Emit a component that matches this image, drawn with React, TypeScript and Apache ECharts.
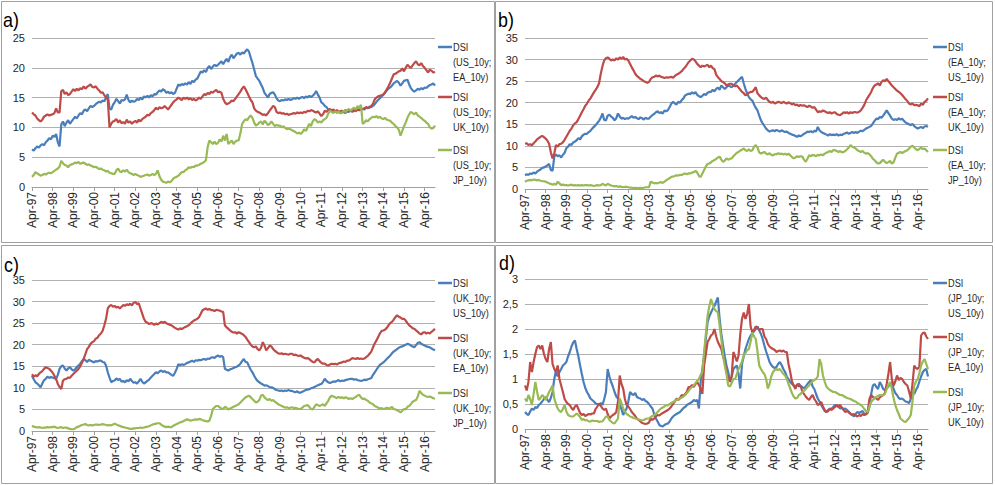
import React, { useEffect, useRef } from "react";
import * as echarts from "echarts";

// ---------- categories (monthly, Apr-97 .. Oct-16) ----------
const MONTH_NAMES = ["Jan", "Feb", "Mar", "Apr", "May", "Jun", "Jul", "Aug", "Sep", "Oct", "Nov", "Dec"];
const N_POINTS = 235;
const categories: string[] = [];
for (let i = 0; i < N_POINTS; i++) {
  const k = 3 + i;
  const y = 1997 + Math.floor(k / 12);
  categories.push(MONTH_NAMES[k % 12] + "-" + String(y % 100).padStart(2, "0"));
}

// ---------- panel a) ----------
const aUS_EA = [
  6.3, 6.1, 6.5, 6.8, 6.6, 7.0, 7.2, 7.0, 7.5, 7.8, 8.2, 8.0,
  8.6, 8.4, 8.9, 7.5, 6.8, 10.5, 11.0, 10.2, 10.8, 11.2, 10.6, 11.0,
  11.4, 11.8, 11.5, 12.0, 12.4, 12.2, 12.8, 13.0, 12.7, 13.2, 13.6, 13.4,
  13.6, 13.9, 14.1, 14.3, 14.2, 14.5, 14.4, 15.0, 15.6, 13.2, 13.0, 13.8,
  14.2, 14.8, 14.4, 14.0, 14.6, 14.5, 14.7, 15.5, 14.6, 14.2, 14.5, 14.3,
  14.4, 14.8, 14.6, 15.0, 14.7, 15.2, 15.0, 15.3, 15.0, 15.4, 15.2, 15.6,
  15.5, 15.9, 16.2, 16.0, 16.4, 16.2, 15.8, 16.0, 15.7, 15.9, 15.6, 15.8,
  16.5, 17.2, 17.0, 17.3, 17.1, 17.4, 17.2, 17.6, 17.3, 17.8, 17.6, 18.0,
  18.2, 18.8, 19.4, 19.2, 19.6, 19.3, 20.0, 20.3, 19.8, 20.2, 20.5, 20.3,
  20.5, 20.8, 21.1, 20.6, 21.1, 21.5, 21.0, 21.8, 22.2, 21.6, 22.0, 22.4,
  22.5, 22.2, 22.6, 22.4, 22.8, 23.1, 22.7, 21.7, 20.8, 19.7, 18.6, 18.2,
  17.8, 17.2, 16.6, 15.8, 15.4, 15.0, 15.6, 15.8, 15.9, 15.5, 14.9, 14.5,
  14.4, 14.6, 14.5, 14.7, 14.6, 14.8, 14.6, 14.7, 14.9, 14.8, 15.0, 14.8,
  15.0, 15.1, 14.9, 15.2, 15.0, 15.3, 15.1, 15.3, 15.6, 16.1, 15.5, 15.0,
  14.2, 14.0, 13.6, 13.4, 13.0, 12.9, 12.8, 12.6, 12.7, 12.5, 12.6, 12.4,
  12.5, 12.6, 12.4, 12.7, 12.6, 12.8, 12.8, 12.9, 12.7, 13.0, 12.9, 13.0,
  13.1, 13.0, 13.3, 13.2, 13.5, 13.4, 13.6, 13.9, 14.3, 14.6, 14.9, 15.2,
  15.5, 15.8, 16.2, 16.5, 16.7, 17.0, 17.4, 17.6, 17.8, 17.5, 17.0, 17.4,
  17.8, 17.9, 18.0, 17.2, 16.6, 16.2, 16.0, 16.2, 16.5, 16.3, 16.6, 16.4,
  16.7, 16.6, 16.9, 17.1, 17.2, 17.4, 17.0,
];
const aUS_UK = [
  12.5, 12.2, 12.0, 11.5, 11.2, 11.0, 11.3, 11.8, 12.0, 12.2, 12.0, 12.1,
  12.2, 12.4, 13.2, 12.5, 12.5, 16.1, 16.3, 15.6, 15.9, 15.4, 15.6, 16.0,
  16.4, 16.1, 16.5, 16.2, 16.6, 16.4, 16.9, 16.5, 16.8, 17.0, 17.2, 16.8,
  16.7, 16.9, 16.5, 16.2, 15.8, 15.9, 15.4, 15.0, 14.7, 10.0, 10.6, 11.0,
  11.1, 11.4, 10.8, 11.2, 10.7, 10.9, 10.6, 11.3, 10.8, 11.0, 10.6, 10.9,
  11.1, 10.8, 11.3, 11.0, 11.4, 11.6, 11.8, 12.1, 12.0, 12.4, 12.6, 12.9,
  13.3, 13.0, 13.4, 13.2, 13.3, 13.6, 13.3, 13.0, 13.4, 13.8, 14.2, 14.5,
  14.7, 15.0, 14.8, 14.6, 15.0, 14.8, 15.0, 14.7, 14.9, 14.6, 14.8, 14.5,
  14.7, 15.0, 14.8, 15.2, 15.6, 15.4, 15.8, 15.6, 16.0, 15.8, 16.1, 16.3,
  15.9, 16.0, 15.8, 14.8, 14.2, 13.9, 14.0, 14.2, 14.5, 14.4, 14.8, 15.2,
  15.6, 16.0, 16.5, 16.9, 16.4, 15.8, 15.2, 14.6, 14.2, 13.2, 12.8, 12.6,
  12.5, 12.3, 12.1, 12.2, 12.0, 12.4, 12.8, 13.2, 13.6, 13.4, 12.6, 12.4,
  12.5, 12.3, 12.4, 12.2, 12.3, 12.1, 12.2, 12.3, 12.4, 12.3, 12.5, 12.4,
  12.5, 12.4, 12.6, 12.5, 12.8, 12.7, 12.9, 12.8, 12.6, 12.5, 12.7, 12.3,
  11.9, 12.2, 12.8, 12.6, 12.9, 13.1, 12.8, 13.0, 12.7, 12.9, 12.6, 12.7,
  12.8, 12.6, 12.9, 12.7, 12.8, 12.8, 12.6, 12.9, 12.8, 13.0, 12.9, 13.1,
  13.1, 13.2, 13.4, 13.3, 13.3, 13.6, 14.0, 14.7, 15.0, 15.2, 15.3, 15.4,
  15.5, 15.9, 16.4, 16.9, 17.5, 18.2, 18.9, 19.0, 19.2, 19.4, 19.5, 19.9,
  19.4, 20.0, 20.5, 20.2, 20.0, 20.4, 20.8, 21.1, 20.6, 20.4, 20.8, 20.3,
  20.0, 19.6, 19.2, 19.7, 19.5, 19.2, 19.3,
];
const aUS_JP = [
  1.7, 2.0, 2.5, 2.3, 2.1, 1.9, 2.0, 2.2, 2.1, 2.3, 2.4, 2.3,
  2.5, 2.7, 2.9, 3.1, 3.4, 4.4, 4.0, 3.7, 3.6, 3.3, 3.7, 3.8,
  3.9, 4.1, 4.0, 4.2, 3.9, 4.0, 4.1, 3.9, 3.7, 3.8, 3.6, 3.5,
  3.3, 3.4, 3.2, 3.0, 3.1, 2.9, 2.8, 2.6, 2.7, 2.4, 2.3, 2.2,
  2.2, 2.8, 3.1, 2.6, 2.5, 2.8, 2.6, 2.9, 2.5, 2.3, 2.2, 2.0,
  2.2, 2.0, 1.9, 1.7, 1.8, 1.9, 2.0, 2.1, 1.9, 2.0, 2.2, 2.0,
  2.2, 2.8, 1.8, 1.2, 0.9, 0.8, 0.7, 0.9, 0.8, 1.0, 1.4, 1.6,
  1.7, 1.9, 2.2, 2.5, 2.5, 2.8, 3.0, 3.3, 3.2, 3.4, 3.3, 3.6,
  3.6, 3.7, 3.9, 4.0, 4.2, 4.5, 6.7, 7.8, 7.5, 7.2, 7.6, 7.2,
  7.4, 8.0, 7.6, 8.6, 7.8, 8.9, 7.2, 7.5, 7.8, 7.2, 7.6, 7.8,
  7.8, 9.0, 10.6, 11.0, 11.4, 11.2, 11.7, 12.0, 11.6, 10.8, 10.3, 10.5,
  10.8, 11.0, 10.5, 11.1, 10.8, 10.4, 10.6, 11.0, 10.6, 10.2, 10.4, 10.3,
  10.3, 10.0, 10.2, 9.9, 9.7, 9.8, 9.7, 9.5, 9.4, 9.2, 9.0, 9.1,
  8.9, 9.2, 9.7, 9.4, 10.0, 10.6, 10.2, 11.0, 11.4, 11.2, 10.8, 11.0,
  10.8, 11.2, 11.4, 11.6, 12.3, 12.8, 12.6, 12.4, 12.7, 12.5, 12.6, 12.4,
  12.5, 12.8, 12.6, 12.9, 13.1, 12.8, 13.1, 13.3, 13.0, 13.6, 13.2, 13.8,
  10.6, 10.8, 11.2, 11.0, 11.4, 11.6, 11.8, 11.7, 11.9, 11.6, 11.8, 11.5,
  11.4, 11.6, 11.3, 11.2, 11.1, 10.8, 10.6, 10.2, 10.0, 9.6, 8.6, 9.4,
  10.2, 10.8, 11.6, 12.2, 12.6, 12.4, 12.2, 12.5, 12.0, 11.8, 11.6, 11.3,
  11.1, 10.8, 10.6, 10.0, 9.8, 9.9, 10.3,
];

// ---------- panel b) ----------
const bEA_US = [
  3.2, 3.4, 3.3, 3.6, 3.5, 3.8, 3.6, 4.0, 4.3, 4.5, 4.9, 5.0,
  5.2, 5.5, 5.8, 4.4, 4.2, 7.5, 8.0, 7.6, 7.8, 7.3, 7.9, 8.4,
  9.5, 9.8, 10.4, 10.2, 10.8, 11.0, 11.3, 11.8, 11.5, 12.2, 12.6, 12.8,
  12.8, 13.2, 13.5, 14.0, 14.4, 14.8, 15.3, 15.8, 16.5, 17.5, 16.0, 15.9,
  17.0, 17.2, 16.8, 16.5, 15.9, 16.4, 17.5, 16.8, 16.3, 16.5, 16.2, 16.4,
  16.3, 16.6, 16.9, 16.5, 16.7, 16.4, 16.2, 16.6, 16.4, 16.1, 16.5, 16.3,
  16.3, 16.8, 17.1, 17.4, 17.8, 18.0, 17.6, 17.8, 17.5, 18.2, 18.0, 18.3,
  19.0, 19.8, 20.2, 19.8, 19.6, 20.2, 20.0, 20.6, 21.0, 21.7, 21.9, 22.1,
  22.0, 22.4, 22.1, 22.5, 21.8, 21.5, 21.3, 21.6, 22.0, 21.8, 22.3, 22.5,
  22.5, 23.0, 22.6, 23.2, 23.5, 23.0, 24.0, 23.6, 23.2, 23.6, 24.0, 23.8,
  23.6, 24.0, 24.4, 24.8, 25.2, 25.6, 26.0, 24.5, 23.2, 22.1, 21.3, 20.8,
  20.5, 19.6, 18.8, 18.2, 17.0, 15.9, 15.2, 14.6, 14.0, 13.6, 13.3, 13.5,
  13.6, 13.4, 13.7, 13.5, 13.3, 13.6, 13.4, 13.2, 13.3, 13.0, 12.8, 12.6,
  12.5, 12.3, 12.1, 12.4, 12.2, 12.5, 12.8, 13.0, 13.3, 13.2, 13.4, 13.1,
  13.5, 13.3, 14.4, 13.6, 13.2, 13.0, 12.8, 12.6, 12.4, 12.7, 12.5, 12.6,
  12.5, 12.7, 12.4, 12.6, 12.5, 12.8, 12.9, 13.1, 12.8, 13.0, 13.2, 13.0,
  13.2, 13.0, 13.3, 13.5, 13.4, 13.7, 14.0, 14.2, 14.4, 14.6, 15.2, 15.8,
  16.3, 16.2, 16.7, 16.5, 17.0, 17.6, 18.2, 17.6, 17.0, 16.3, 16.0, 16.2,
  16.0, 16.4, 16.1, 16.3, 15.8, 15.4, 15.2, 15.0, 14.8, 15.1, 14.6, 14.3,
  14.0, 14.2, 14.4, 14.1, 14.5, 14.6, 14.4,
];
const bEA_UK = [
  10.5, 10.6, 10.2, 10.4, 10.1, 10.6, 11.0, 11.5, 11.8, 12.1, 12.3, 12.0,
  11.7, 11.2, 10.5, 8.5, 7.1, 8.2, 10.2, 9.8, 10.4, 10.5, 10.8, 11.4,
  12.1, 12.8, 13.5, 14.0, 14.8, 15.2, 15.5, 16.2, 17.0, 17.8, 18.5, 19.3,
  19.8, 20.5, 21.0, 21.7, 22.4, 23.0, 23.6, 24.5, 26.7, 28.5, 29.8, 30.3,
  30.5, 30.2, 29.8, 30.0, 29.8, 30.3, 30.0, 30.5, 30.2, 30.6, 30.0, 30.2,
  29.8, 29.0, 28.2, 27.5, 26.7, 26.2, 25.9, 25.5, 25.3, 25.0, 24.8, 24.6,
  24.8, 25.5, 25.9, 26.0, 26.3, 26.1, 26.3, 26.0, 25.9, 25.7, 25.9, 25.8,
  25.9, 26.0, 25.8, 26.2, 26.5, 26.7, 27.0, 27.3, 27.8, 28.2, 28.8, 29.4,
  29.8, 30.2, 30.0, 29.6, 29.0, 28.6, 28.2, 28.6, 28.4, 28.6, 28.8, 28.2,
  28.6, 28.0, 27.8, 26.5, 25.9, 25.5, 25.0, 24.8, 24.5, 24.0, 24.2, 24.4,
  24.4, 24.0, 23.8, 24.0, 23.5, 23.0, 22.5, 22.2, 21.7, 22.0, 22.3, 22.5,
  22.5, 23.0, 23.6, 22.2, 21.7, 21.3, 21.0, 20.9, 21.2, 20.6, 20.2, 20.0,
  20.2, 19.8, 20.0, 20.2, 20.1, 19.9, 20.2, 20.0, 19.8, 20.1, 19.9, 19.6,
  19.8, 19.4, 19.6, 19.2, 19.5, 19.3, 19.4, 19.2, 19.0, 19.3, 19.1, 18.8,
  19.0, 18.4, 17.8, 18.0, 17.9, 18.2, 18.0, 17.8, 17.6, 17.8, 17.5, 17.7,
  17.8, 17.4, 17.2, 17.1, 17.4, 17.8, 17.6, 17.8, 17.5, 17.8, 17.6, 17.8,
  17.8, 17.7, 17.9, 18.2, 18.8, 19.5, 20.5, 21.2, 21.8, 22.5, 23.4, 24.0,
  24.2, 24.5, 24.0, 24.8, 25.2, 25.0, 25.5, 25.0, 24.5, 24.0, 23.6, 23.2,
  22.8, 22.5, 22.2, 21.8, 21.3, 20.8, 20.4, 19.8, 19.6, 19.8, 19.4, 19.5,
  19.4, 19.2, 19.8, 19.5, 20.2, 20.5, 21.0,
];
const bEA_JP = [
  1.7, 1.9, 2.0, 2.1, 2.0, 2.2, 2.1, 2.0, 2.1, 1.9, 1.8, 1.8,
  1.7, 1.5, 1.3, 1.2, 1.0, 1.2, 1.0, 1.7, 1.3, 0.9, 1.0, 0.9,
  0.9, 0.8, 0.9, 1.0, 0.8, 0.9, 0.8, 0.9, 0.8, 0.9, 0.8, 0.9,
  0.9, 0.8, 0.9, 0.8, 0.7, 0.8, 0.9, 0.8, 0.9, 1.2, 1.0, 0.8,
  1.2, 1.0, 0.8, 0.7, 0.6, 0.7, 0.5, 0.6, 0.5, 0.4, 0.5, 0.5,
  0.4, 0.3, 0.3, 0.2, 0.3, 0.2, 0.2, 0.3, 0.2, 0.3, 0.4, 0.4,
  0.4, 1.7, 1.5, 1.3, 1.4, 1.3, 1.5, 1.6, 1.4, 1.7, 2.0, 2.3,
  2.5, 2.8, 2.9, 3.0, 3.2, 3.1, 3.3, 3.2, 3.5, 3.6, 3.4, 3.6,
  3.6, 3.8, 3.9, 4.2, 3.8, 3.0, 2.8, 3.6, 4.4, 5.2, 5.8, 5.9,
  6.2, 6.5, 6.7, 7.0, 7.3, 7.5, 6.8, 6.3, 6.6, 7.1, 6.8, 7.0,
  7.1, 7.6, 8.0, 8.4, 8.6, 8.9, 9.1, 9.4, 9.0, 8.8, 9.2, 8.8,
  9.0, 9.8, 10.2, 9.6, 8.5, 8.2, 8.4, 8.6, 8.2, 8.0, 8.3, 7.9,
  7.8, 8.1, 8.0, 8.3, 8.1, 8.2, 8.0, 8.2, 7.9, 8.2, 7.8, 7.4,
  7.1, 7.3, 7.6, 7.4, 7.6, 7.5, 6.8, 6.3, 7.0, 7.8, 7.6, 7.9,
  7.8, 7.6, 7.9, 7.8, 8.0, 7.8, 8.2, 8.4, 8.6, 8.8, 8.6, 9.0,
  9.0, 8.8, 8.6, 8.8, 8.5, 8.6, 8.8, 9.2, 9.6, 10.2, 9.8, 9.6,
  9.4, 9.0, 8.8, 8.6, 8.8, 8.4, 8.2, 8.3, 8.0, 7.6, 7.0, 6.7,
  6.2, 5.9, 6.0, 6.4, 6.8, 6.3, 6.0, 6.2, 6.5, 5.9, 6.2, 7.2,
  8.2, 8.4, 8.6, 8.3, 8.6, 8.8, 9.0, 9.4, 9.8, 10.0, 9.6, 9.2,
  9.0, 9.3, 9.6, 9.2, 9.4, 9.0, 8.6,
];

// ---------- panel c) ----------
const cUK_US = [
  12.8, 12.0, 11.3, 11.0, 10.6, 10.1, 11.0, 11.8, 12.1, 12.6, 12.3, 12.5,
  12.4, 12.2, 12.1, 13.0, 14.4, 15.0, 15.2, 14.5, 14.0, 14.5, 14.8, 14.3,
  14.0, 14.3, 14.8, 15.2, 15.6, 16.2, 16.7, 16.4, 16.0, 16.5, 16.3, 16.1,
  15.9, 16.2, 16.1, 16.3, 16.3, 16.0, 15.9, 15.2, 13.6, 12.4, 11.3, 11.6,
  11.7, 12.2, 11.8, 12.1, 11.4, 11.6, 11.3, 11.8, 11.5, 12.1, 11.6, 11.2,
  11.3, 11.0, 11.5, 12.1, 11.4, 11.0, 11.3, 11.6, 11.9, 12.4, 12.8, 13.2,
  13.6, 13.4, 13.8, 14.0, 13.7, 13.9, 13.6, 13.6, 13.3, 13.0, 12.8, 13.5,
  14.4, 15.5, 15.2, 15.5, 15.3, 15.5, 15.8, 15.9, 16.1, 16.3, 16.0, 16.4,
  16.3, 16.5, 16.4, 16.6, 16.7, 16.5, 16.8, 16.7, 17.0, 17.1, 16.9, 17.3,
  17.5, 17.2, 17.4, 17.1, 14.4, 14.2, 14.0, 14.3, 14.4, 14.6, 14.8, 14.9,
  15.2, 15.6, 16.2, 16.7, 16.0, 15.9, 15.0, 14.2, 13.6, 12.8, 12.1, 11.6,
  11.3, 11.0, 10.8, 10.5, 10.6, 10.4, 10.2, 10.1, 10.0, 9.7, 9.5, 9.4,
  9.3, 9.4, 9.2, 9.4, 9.3, 9.5, 9.3, 9.3, 9.1, 9.0, 9.2, 8.9,
  8.9, 9.1, 9.3, 9.5, 9.6, 9.7, 9.9, 10.0, 10.2, 10.4, 10.6, 10.8,
  10.9, 11.4, 12.1, 11.6, 11.3, 11.1, 11.3, 11.5, 11.4, 11.6, 11.8, 11.5,
  11.7, 11.6, 11.8, 11.9, 12.0, 12.1, 12.1, 11.9, 12.0, 11.8, 11.7, 11.6,
  11.7, 11.9, 11.8, 12.0, 12.1, 12.3, 13.0, 13.6, 14.2, 14.8, 15.3, 15.6,
  15.9, 16.3, 16.7, 17.1, 17.5, 18.0, 18.4, 18.7, 19.0, 19.3, 19.5, 19.6,
  19.8, 20.0, 20.2, 20.1, 19.8, 19.6, 19.4, 19.9, 20.4, 20.6, 20.2, 20.0,
  19.8, 19.6, 19.5, 19.4, 19.1, 18.9, 18.7,
];
const cUK_EA = [
  13.2, 12.6, 12.9, 12.7, 13.2, 13.6, 13.9, 14.4, 14.8, 14.6, 14.4, 14.0,
  13.5, 12.8, 12.0, 10.9, 10.2, 9.7, 11.7, 12.0, 12.1, 12.4, 12.3, 12.8,
  13.2, 13.6, 14.0, 14.4, 15.0, 15.8, 16.7, 17.8, 19.0, 19.5, 20.2, 20.6,
  20.8, 21.4, 21.6, 22.2, 22.6, 23.2, 24.5, 26.0, 28.4, 29.0, 29.2, 28.8,
  29.0, 28.6, 28.8, 28.4, 28.8, 29.2, 29.0, 29.4, 29.2, 29.5, 29.1, 29.7,
  29.9, 29.4, 29.6, 28.4, 27.2, 26.0, 25.3, 25.1, 24.8, 25.0, 24.9, 24.6,
  24.9, 24.7, 25.0, 25.3, 25.1, 25.3, 25.0, 24.8, 24.6, 24.5, 24.2, 23.9,
  23.7, 23.5, 23.8, 23.6, 23.9, 24.1, 24.3, 24.5, 24.9, 25.3, 25.6, 25.8,
  26.0, 26.4, 27.2, 28.0, 28.2, 28.4, 28.1, 28.3, 28.0, 28.0, 27.8, 28.1,
  28.0, 27.9, 27.7, 27.6, 24.5, 24.0, 23.7, 23.3, 23.0, 22.8, 22.9, 22.6,
  22.9, 22.7, 22.5, 22.2, 21.8, 21.2, 20.6, 20.0, 19.6, 19.4, 19.6, 19.0,
  18.7, 19.3, 20.6, 19.8, 18.7, 19.2, 19.8, 19.6, 19.0, 18.6, 18.3, 18.0,
  17.9, 18.0, 17.8, 17.9, 17.8, 17.7, 17.9, 17.9, 17.6, 17.7, 17.5, 17.4,
  17.5, 17.2, 17.0, 16.8, 16.9, 16.7, 16.3, 16.0, 15.9, 16.4, 16.7, 16.2,
  15.8, 15.6, 15.6, 15.3, 15.2, 15.4, 15.6, 15.5, 15.6, 15.4, 15.7, 15.8,
  15.9, 16.1, 16.0, 16.3, 16.3, 16.6, 16.9, 16.8, 16.7, 16.9, 16.7, 16.8,
  16.7, 16.8, 17.1, 17.4, 17.9, 18.4, 19.4, 20.3, 21.0, 21.8, 22.6, 23.2,
  23.3, 23.5, 23.9, 24.5, 25.0, 25.3, 25.8, 26.4, 26.8, 26.5, 26.3, 26.0,
  26.0, 25.6, 25.0, 24.5, 24.2, 23.8, 23.7, 23.3, 23.0, 22.6, 22.4, 22.8,
  22.9, 22.6, 22.8, 22.6, 23.0, 23.3, 23.7,
];
const cUK_JP = [
  1.2, 1.0, 0.9, 0.8, 0.9, 0.8, 0.7, 0.8, 0.8, 0.9, 0.8, 0.9,
  0.9, 1.0, 0.8, 0.7, 0.8, 0.9, 0.7, 0.8, 0.8, 0.6, 0.5, 0.4,
  0.4, 0.6, 0.9, 1.0, 1.2, 1.4, 1.5, 1.6, 1.4, 1.3, 1.4, 1.3,
  1.4, 1.5, 1.5, 1.4, 1.5, 1.6, 1.5, 1.4, 1.3, 1.4, 1.3, 1.5,
  1.7, 1.5, 1.3, 1.2, 1.0, 0.9, 0.8, 0.7, 0.6, 0.5, 0.5, 0.6,
  0.6, 0.7, 0.7, 0.8, 0.7, 0.8, 0.9, 1.0, 1.1, 1.3, 1.5, 1.6,
  1.7, 1.8, 1.8, 1.5, 1.2, 1.0, 0.9, 1.0, 0.9, 0.9, 1.2, 1.4,
  1.6, 1.8, 2.0, 2.1, 2.3, 2.5, 2.7, 2.6, 2.4, 2.5, 2.6, 2.7,
  2.6, 2.8, 2.7, 2.5, 2.4, 2.3, 2.2, 2.4, 3.5, 5.1, 5.5, 5.8,
  5.8, 5.5, 5.2, 5.1, 5.6, 5.4, 5.0, 5.2, 5.4, 5.6, 5.8, 6.0,
  6.2, 6.6, 7.0, 7.4, 7.8, 8.0, 8.2, 7.8, 7.4, 7.0, 6.6, 6.8,
  7.2, 8.2, 8.4, 7.8, 7.4, 7.2, 7.4, 7.0, 7.2, 6.8, 6.5, 6.2,
  6.0, 5.8, 5.6, 5.4, 5.5, 5.3, 5.4, 5.5, 5.3, 5.4, 5.2, 5.1,
  5.1, 5.4, 5.8, 5.9, 6.0, 5.6, 5.1, 5.0, 5.6, 6.2, 6.0, 5.8,
  6.0, 6.2, 5.8, 6.4, 7.0, 7.8, 8.2, 8.0, 7.8, 7.6, 7.9, 7.7,
  7.8, 7.6, 7.8, 7.7, 7.4, 7.6, 7.4, 7.7, 7.9, 8.2, 8.4, 7.8,
  7.4, 7.5, 7.2, 7.0, 6.6, 6.4, 6.2, 5.8, 5.6, 5.4, 5.2, 5.3,
  5.1, 5.2, 5.4, 5.2, 5.3, 5.6, 5.1, 5.0, 4.8, 4.6, 4.3, 4.7,
  5.1, 5.0, 5.6, 5.8, 6.2, 6.8, 7.0, 7.2, 8.0, 9.3, 8.8, 8.4,
  8.2, 8.0, 7.9, 8.0, 7.8, 7.6, 7.5,
];

// ---------- panel d) ----------
const dJP_US = [
  0.34, 0.30, 0.28, 0.35, 0.41, 0.38, 0.44, 0.42, 0.48, 0.51, 0.55, 0.60,
  0.64, 0.58, 0.54, 0.62, 0.74, 1.00, 1.17, 1.05, 1.14, 1.20, 1.27, 1.30,
  1.34, 1.45, 1.54, 1.65, 1.73, 1.77, 1.60, 1.45, 1.27, 1.10, 0.94, 0.82,
  0.74, 0.68, 0.61, 0.58, 0.55, 0.51, 0.50, 0.48, 0.52, 0.48, 0.60, 0.74,
  1.20, 1.05, 0.94, 0.85, 0.74, 0.65, 0.61, 0.48, 0.40, 0.28, 0.35, 0.41,
  0.55, 0.74, 0.70, 0.68, 0.72, 0.64, 0.62, 0.61, 0.58, 0.60, 0.56, 0.54,
  0.50, 0.45, 0.41, 0.30, 0.21, 0.15, 0.08, 0.06, 0.05, 0.08, 0.10, 0.11,
  0.15, 0.21, 0.25, 0.28, 0.30, 0.32, 0.34, 0.38, 0.42, 0.44, 0.48, 0.50,
  0.52, 0.54, 0.58, 0.56, 0.58, 0.41, 0.94, 1.20, 1.47, 1.80, 2.13, 2.25,
  2.33, 2.40, 2.46, 2.55, 2.63, 2.20, 1.90, 1.67, 1.45, 1.27, 1.14, 0.94,
  1.05, 1.20, 1.24, 1.27, 1.10, 0.81, 1.30, 1.45, 1.60, 1.70, 1.80, 1.87,
  1.92, 1.95, 2.00, 2.05, 1.97, 1.90, 1.80, 1.67, 1.55, 1.45, 1.34, 1.28,
  1.24, 1.22, 1.24, 1.30, 1.34, 1.28, 1.20, 1.14, 1.05, 1.00, 0.94, 0.90,
  0.87, 0.85, 0.88, 0.91, 0.86, 0.84, 0.81, 0.85, 0.90, 0.94, 0.98, 0.85,
  0.80, 0.70, 0.61, 0.55, 0.48, 0.42, 0.36, 0.34, 0.38, 0.41, 0.40, 0.44,
  0.48, 0.46, 0.44, 0.41, 0.43, 0.40, 0.41, 0.38, 0.35, 0.30, 0.28, 0.25,
  0.30, 0.34, 0.32, 0.34, 0.36, 0.31, 0.30, 0.32, 0.45, 0.70, 0.87, 0.90,
  0.84, 0.80, 0.94, 0.88, 0.80, 0.78, 0.81, 0.85, 0.90, 0.94, 0.80, 0.72,
  0.68, 0.62, 0.60, 0.61, 0.58, 0.55, 0.54, 0.52, 0.60, 0.74, 0.70, 0.78,
  0.84, 0.95, 1.05, 1.14, 1.18, 1.20, 1.05,
];
const dJP_EA = [
  0.87, 0.77, 0.94, 1.34, 1.14, 1.34, 1.50, 1.64, 1.67, 1.60, 1.67, 1.50,
  1.40, 1.34, 1.60, 1.74, 1.30, 1.20, 1.14, 1.27, 1.00, 0.87, 0.74, 0.60,
  0.54, 0.50, 0.48, 0.42, 0.38, 0.45, 0.48, 0.40, 0.32, 0.28, 0.30, 0.26,
  0.28, 0.30, 0.29, 0.31, 0.31, 0.40, 0.45, 0.51, 0.46, 0.41, 0.38, 0.41,
  0.30, 0.21, 0.25, 0.28, 0.30, 0.34, 0.55, 1.07, 0.90, 0.81, 0.60, 0.48,
  0.45, 0.40, 0.34, 0.30, 0.26, 0.21, 0.18, 0.15, 0.12, 0.11, 0.10, 0.11,
  0.13, 0.21, 0.18, 0.21, 0.25, 0.28, 0.27, 0.30, 0.32, 0.34, 0.36, 0.38,
  0.41, 0.45, 0.50, 0.55, 0.61, 0.58, 0.62, 0.68, 0.66, 0.70, 0.75, 0.84,
  0.84, 0.88, 0.84, 0.90, 0.94, 0.88, 0.81, 0.70, 1.27, 1.50, 1.74, 1.80,
  1.87, 1.90, 2.00, 1.85, 1.74, 1.67, 1.60, 1.45, 1.34, 1.14, 1.00, 0.95,
  1.05, 1.54, 1.45, 1.35, 1.47, 1.90, 2.20, 2.33, 2.20, 2.30, 2.50, 2.05,
  1.93, 1.98, 2.05, 2.03, 1.98, 2.00, 2.00, 1.85, 1.80, 1.70, 1.65, 1.62,
  1.60, 1.58, 1.54, 1.56, 1.57, 1.55, 1.57, 1.54, 1.54, 1.30, 1.14, 0.95,
  0.87, 0.80, 0.90, 0.85, 0.87, 0.75, 0.70, 0.65, 0.61, 0.58, 0.64, 0.68,
  0.60, 0.55, 0.48, 0.50, 0.54, 0.45, 0.38, 0.34, 0.36, 0.40, 0.38, 0.41,
  0.44, 0.48, 0.46, 0.48, 0.42, 0.38, 0.34, 0.36, 0.33, 0.31, 0.28, 0.30,
  0.27, 0.25, 0.28, 0.26, 0.30, 0.28, 0.29, 0.35, 0.60, 0.68, 0.64, 0.62,
  0.61, 0.58, 0.63, 0.66, 0.68, 0.72, 0.90, 1.10, 1.34, 1.00, 0.87, 0.95,
  1.07, 0.98, 1.02, 1.00, 0.94, 0.90, 0.87, 0.75, 0.61, 0.90, 1.27, 1.22,
  1.20, 1.25, 1.87, 1.92, 1.93, 1.85, 1.80,
];
const dJP_UK = [
  0.61, 0.55, 0.68, 0.60, 0.48, 0.70, 0.94, 0.75, 0.58, 0.62, 0.68, 0.64,
  0.58, 0.66, 0.74, 0.80, 0.87, 0.61, 0.50, 0.41, 0.36, 0.34, 0.40, 0.48,
  0.35, 0.28, 0.26, 0.25, 0.25, 0.28, 0.31, 0.28, 0.24, 0.18, 0.20, 0.17,
  0.18, 0.15, 0.15, 0.17, 0.16, 0.16, 0.16, 0.14, 0.15, 0.15, 0.20, 0.25,
  0.25, 0.18, 0.15, 0.12, 0.11, 0.16, 0.21, 0.61, 0.52, 0.41, 0.35, 0.30,
  0.28, 0.25, 0.24, 0.22, 0.21, 0.20, 0.19, 0.18, 0.17, 0.18, 0.20, 0.21,
  0.21, 0.24, 0.26, 0.28, 0.30, 0.34, 0.38, 0.41, 0.43, 0.45, 0.48, 0.47,
  0.50, 0.52, 0.54, 0.56, 0.58, 0.60, 0.61, 0.63, 0.65, 0.68, 0.72, 0.76,
  0.81, 0.84, 0.87, 0.92, 0.96, 1.00, 1.08, 1.14, 1.54, 1.90, 2.26, 2.45,
  2.60, 2.50, 2.40, 2.36, 2.33, 2.07, 1.80, 1.47, 1.27, 1.10, 0.87, 0.85,
  0.92, 1.00, 1.00, 1.10, 1.20, 1.27, 1.35, 1.47, 1.52, 1.58, 1.60, 1.75,
  1.93, 1.85, 1.80, 1.55, 1.27, 1.20, 1.14, 1.10, 1.00, 0.81, 0.90, 1.05,
  1.14, 1.18, 1.20, 1.18, 1.20, 1.15, 1.10, 1.07, 1.00, 0.90, 0.81, 0.72,
  0.65, 0.61, 0.62, 0.68, 0.70, 0.74, 0.76, 0.80, 0.84, 0.87, 0.92, 0.96,
  0.98, 1.00, 1.05, 1.40, 1.30, 1.07, 0.95, 0.85, 0.81, 0.78, 0.76, 0.74,
  0.74, 0.72, 0.70, 0.68, 0.68, 0.66, 0.64, 0.62, 0.61, 0.60, 0.58, 0.56,
  0.55, 0.52, 0.50, 0.48, 0.45, 0.40, 0.36, 0.34, 0.45, 0.54, 0.58, 0.62,
  0.64, 0.66, 0.68, 0.67, 0.68, 0.70, 0.80, 0.88, 0.94, 0.80, 0.62, 0.48,
  0.38, 0.30, 0.21, 0.18, 0.15, 0.14, 0.18, 0.22, 0.28, 0.55, 0.87, 0.95,
  1.00, 1.12, 1.27, 1.35, 1.40, 1.30, 1.20,
];

// ---------- legend names ----------
const namesA = ["DSI\n(US_10y;\nEA_10y)", "DSI\n(US_10y;\nUK_10y)", "DSI\n(US_10y;\nJP_10y)"];
const namesB = ["DSI\n(EA_10y;\nUS_10y)", "DSI\n(EA_10y;\nUK_10y)", "DSI\n(EA_10y;\nJP_10y)"];
const namesC = ["DSI\n(UK_10y;\nUS_10y)", "DSI\n(UK_10y;\nEA_10y)", "DSI\n(UK_10y;\nJP_10y)"];
const namesD = ["DSI\n(JP_10y;\nUS_10y)", "DSI\n(JP_10y;\nEA_10y)", "DSI\n(JP_10y;\nUK_10y)"];
const panelTitles = ["a)", "b)", "c)", "d)"];

const COLORS = ["#4A7EBB", "#BE4B48", "#98B954"];
const FONT = "'Liberation Sans', Arial, sans-serif";

const panels = [
  { title: panelTitles[0], names: namesA, data: [aUS_EA, aUS_UK, aUS_JP], max: 25, interval: 5,
    grid: { left: 32, top: 38, width: 403, height: 149 }, box: [1.5, 1.5, 493, 241],
    titlePos: [3, 9], legendX: 438, legendY: [47, 97, 150] },
  { title: panelTitles[1], names: namesB, data: [bEA_US, bEA_UK, bEA_JP], max: 35, interval: 5,
    grid: { left: 525, top: 38, width: 403, height: 151 }, box: [495.5, 1.5, 497, 241],
    titlePos: [498, 9], legendX: 933, legendY: [47, 97, 150] },
  { title: panelTitles[2], names: namesC, data: [cUK_US, cUK_EA, cUK_JP], max: 35, interval: 5,
    grid: { left: 32, top: 280, width: 403, height: 151 }, box: [1.5, 245.5, 493, 238],
    titlePos: [4, 254], legendX: 438, legendY: [283, 338, 393] },
  { title: panelTitles[3], names: namesD, data: [dJP_US, dJP_EA, dJP_UK], max: 3, interval: 0.5,
    grid: { left: 525, top: 279, width: 403, height: 150 }, box: [495.5, 245.5, 497, 238],
    titlePos: [499, 252], legendX: 933, legendY: [283, 337, 392] },
];

export default function App() {
  const ref = useRef<HTMLDivElement>(null);
  useEffect(() => {
    if (!ref.current) return;
    const chart = echarts.init(ref.current, undefined, { renderer: "svg" });

    const grids: any[] = [];
    const xAxes: any[] = [];
    const yAxes: any[] = [];
    const series: any[] = [];
    const graphics: any[] = [];

    panels.forEach((p, pi) => {
      grids.push({ ...p.grid, containLabel: false });
      xAxes.push({
        gridIndex: pi,
        type: "category",
        data: categories,
        boundaryGap: false,
        axisLine: { show: true, lineStyle: { color: "#a0a0a0", width: 1 } },
        axisTick: { show: true, interval: 11, length: 4, lineStyle: { color: "#a0a0a0" } },
        axisLabel: {
          interval: 11, rotate: 90, fontSize: 12, color: "#262626", margin: 5, fontFamily: FONT,
        },
        splitLine: { show: false },
      });
      yAxes.push({
        gridIndex: pi,
        type: "value",
        min: 0,
        max: p.max,
        interval: p.interval,
        axisLine: { show: false },
        axisTick: { show: false },
        axisLabel: {
          fontSize: 11, color: "#262626", margin: 7, fontFamily: FONT,
          formatter: (v: number) => String(v).replace(".", ","),
        },
        splitLine: { lineStyle: { color: "#b0b0b0", width: 1 } },
      });
      p.data.forEach((d, si) => {
        series.push({
          type: "line",
          name: p.names[si].replace(/\n/g, " "),
          xAxisIndex: pi,
          yAxisIndex: pi,
          data: d,
          showSymbol: false,
          symbol: "none",
          lineStyle: { width: 2.2, color: COLORS[si] },
          itemStyle: { color: COLORS[si] },
          emphasis: { disabled: true },
        });
      });
      // panel frame
      graphics.push({
        type: "rect",
        shape: { x: p.box[0], y: p.box[1], width: p.box[2], height: p.box[3] },
        style: { fill: "none", stroke: "#a0a0a0", lineWidth: 1 },
        silent: true,
      });
      // panel title
      graphics.push({
        type: "text",
        x: p.titlePos[0],
        y: p.titlePos[1],
        scaleX: 0.85,
        style: { text: p.title, fontSize: 21, fontFamily: FONT, fill: "#000", verticalAlign: "top" },
      });
      // legend
      p.names.forEach((nm, si) => {
        const ly = p.legendY[si];
        graphics.push({
          type: "line",
          shape: { x1: p.legendX, y1: ly, x2: p.legendX + 14, y2: ly },
          style: { stroke: COLORS[si], lineWidth: 2.5 },
        });
        graphics.push({
          type: "text",
          x: p.legendX + 15,
          y: ly - 7.5,
          scaleX: 0.8,
          style: {
            text: nm, fontSize: 11.5, fontFamily: FONT, fill: "#262626",
            lineHeight: 15, verticalAlign: "top", align: "left",
          },
        });
      });
    });

    chart.setOption({
      animation: false,
      backgroundColor: "#ffffff",
      grid: grids,
      xAxis: xAxes,
      yAxis: yAxes,
      series,
      graphic: graphics,
    });
    return () => chart.dispose();
  }, []);

  return (
    <div
      ref={ref}
      style={{ position: "absolute", left: 0, top: 0, width: 995, height: 485, background: "#fff" }}
    />
  );
}
